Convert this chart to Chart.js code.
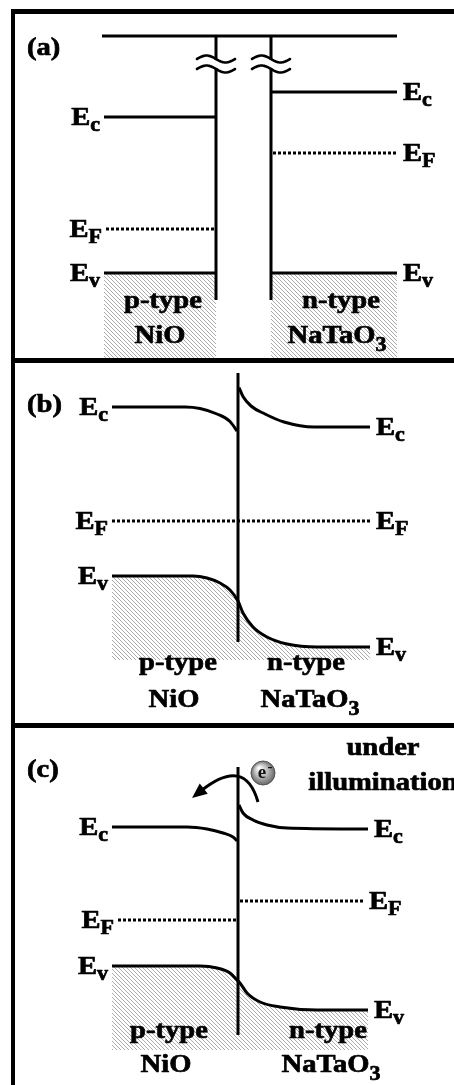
<!DOCTYPE html>
<html><head><meta charset="utf-8">
<script src="https://cdn.jsdelivr.net/npm/chart.js@4.4.1/dist/chart.umd.min.js"></script>
<style>
html,body{margin:0;padding:0;background:#fff;}
#wrap{position:relative;width:454px;height:1085px;overflow:hidden;background:#fff;}
canvas{position:absolute;left:0;}
.bar{position:absolute;background:#000;z-index:5;}
</style></head><body>
<div id="wrap">
<canvas id="ca" width="454" height="360" style="top:0px"></canvas>
<canvas id="cb" width="454" height="365" style="top:360px"></canvas>
<canvas id="cc" width="454" height="360" style="top:725px"></canvas>
<div class="bar" style="left:11px;top:9px;width:4px;height:1076px"></div>
<div class="bar" style="left:11px;top:9px;width:443px;height:5px"></div>
<div class="bar" style="left:11px;top:358px;width:443px;height:5px"></div>
<div class="bar" style="left:11px;top:723px;width:443px;height:5px"></div>
</div>
<script>
// ===== DATA (x = position across junction, a.u.; E = energy, eV relative) =====
// Panel (a): separate semiconductors before contact
const A_VAC_X      = [-13.6, 15.9];
const A_VAC_E      = [4.74, 4.74];
const A_NIO_X      = [-13.4, -2.2];
const A_NIO_EC     = [3.12, 3.12];
const A_NIO_EF_X   = [-13.2, -2.4];
const A_NIO_EF     = [0.88, 0.88];
const A_NIO_EV     = [0, 0];
const A_NTO_X      = [3.3, 15.9];
const A_NTO_EC     = [3.62, 3.62];
const A_NTO_EF_X   = [3.5, 15.9];
const A_NTO_EF     = [2.40, 2.40];
const A_NTO_EV     = [0, 0];
const A_WALL_NIO_X = [-2.2, -2.2];
const A_WALL_NTO_X = [3.3, 3.3];
const A_WALL_E     = [4.74, -0.54];
const A_BREAK_E    = 4.18;

// Panel (b): p-n junction in equilibrium
const B_NIO_EC_X = [-12.6, -5.3, -3.8, -2.1, -0.8, -0.1];
const B_NIO_EC   = [2.28, 2.28, 2.25, 2.14, 1.99, 1.80];
const B_NTO_EC_X = [0.1, 0.5, 1.3, 2.7, 4.6, 7.6, 13.2];
const B_NTO_EC   = [2.67, 2.49, 2.30, 2.14, 1.98, 1.88, 1.88];
const B_EF_X     = [-12.6, 13.2];
const B_EF       = [0, 0];
const B_EV_X     = [-12.6, -4.5, -3.1, -1.8, -0.8, 0, 0.5, 1.5, 2.9, 4.9, 7.9, 13.2];
const B_EV       = [-1.10, -1.10, -1.14, -1.24, -1.38, -1.60, -1.84, -2.12, -2.32, -2.46, -2.52, -2.52];
const B_WALL_X   = [0, 0];
const B_WALL_E   = [2.96, -2.42];
const B_FILL_BOTTOM = -2.78;

// Panel (c): junction under illumination
const C_NIO_EC_X = [-12.6, -5.1, -3.1, -1.5, -0.5, -0.1];
const C_NIO_EC   = [1.86, 1.86, 1.82, 1.74, 1.66, 1.58];
const C_NTO_EC_X = [0.1, 0.5, 1.5, 2.9, 4.9, 13.0];
const C_NTO_EC   = [2.30, 2.14, 2.00, 1.90, 1.84, 1.82];
const C_NIO_EF_X = [-12.0, -0.1];
const C_NIO_EF   = [0, 0];
const C_NTO_EF_X = [0.2, 12.5];
const C_NTO_EF   = [0.38, 0.38];
const C_EV_X     = [-12.6, -3.8, -2.1, -0.8, -0.1, 0.2, 0.9, 2.2, 4.2, 7.9, 13.0];
const C_EV       = [-0.92, -0.92, -0.96, -1.06, -1.20, -1.26, -1.46, -1.64, -1.74, -1.80, -1.80];
const C_WALL_X   = [0, 0];
const C_WALL_E   = [3.06, -2.30];
const C_FILL_BOTTOM = -2.60;
const C_ELECTRON = {x: 2.5, E: 2.94};
const C_ARROW_X  = [2.0, 0.7, -4.6];   // start, control, tip
const C_ARROW_E  = [2.36, 3.28, 2.44];

// ===== layout / style =====
const X_MIN = -23.8, X_MAX = 21.6;
const FONT = '"Liberation Serif","Times New Roman",serif';
const SX = 1.1, MAIN = 26, SUB = 20;

function makeHatch(){
  const c = document.createElement('canvas'); c.width = 4; c.height = 4;
  const g = c.getContext('2d');
  g.strokeStyle = '#ababab'; g.lineWidth = 1;
  g.beginPath(); g.moveTo(-1,-1); g.lineTo(5,5); g.stroke();
  g.beginPath(); g.moveTo(-1,3); g.lineTo(1,5); g.stroke();
  g.beginPath(); g.moveTo(3,-1); g.lineTo(5,1); g.stroke();
  return g.createPattern(c, 'repeat');
}
const HATCH = makeHatch();

function line(xs, ys, extra){
  return Object.assign({
    data: xs.map((x,i)=>({x:x, y:ys[i]})),
    showLine:true, borderColor:'#000', borderWidth:3, pointRadius:0, pointHoverRadius:0,
    fill:false, cubicInterpolationMode:'monotone', borderCapStyle:'butt', borderJoinStyle:'round', clip:false
  }, extra || {});
}
const DOT = {borderDash:[3,2]};

function put(ctx, s, x, y, size){
  ctx.save(); ctx.font = 'bold '+size+'px '+FONT; ctx.textAlign='left'; ctx.textBaseline='alphabetic';
  ctx.translate(x,y); ctx.scale(SX,1);
  ctx.fillStyle='#000'; ctx.fillText(s,0,0);
  ctx.strokeStyle='#000'; ctx.lineWidth=0.7; ctx.lineJoin='round'; ctx.strokeText(s,0,0);
  ctx.restore();
}
function tw(ctx, s, size){ ctx.save(); ctx.font = 'bold '+size+'px '+FONT; const w = ctx.measureText(s).width*SX; ctx.restore(); return w; }

function annotPlugin(cfg){
  return {
    id:'annot',
    afterDatasetsDraw(chart){
      const ctx = chart.ctx, xs = chart.scales.x, ys = chart.scales.y;
      (cfg.breaks||[]).forEach(b=>{
        const cx = xs.getPixelForValue(b.x), cy = ys.getPixelForValue(b.E);
        ctx.save();
        ctx.fillStyle='#fff'; ctx.fillRect(cx-3, cy-4, 6, 8);
        ctx.strokeStyle='#000'; ctx.lineWidth=2.6; ctx.lineCap='round';
        [-5,5].forEach(off=>{
          ctx.beginPath();
          for(let i=0;i<=40;i++){
            const t=i/40; const px = cx-19+38*t; const py = cy+off-3.5*Math.sin(2*Math.PI*t);
            if(i===0) ctx.moveTo(px,py); else ctx.lineTo(px,py);
          }
          ctx.stroke();
        });
        ctx.restore();
      });
      (cfg.levels||[]).forEach(l=>{
        const px = xs.getPixelForValue(l.x), py = ys.getPixelForValue(l.E);
        const w1 = tw(ctx,'E',MAIN), w2 = tw(ctx,l.sub,SUB);
        const x0 = l.side==='left' ? px-4-(w1+w2) : px+6;
        put(ctx,'E',x0,py+8,MAIN); put(ctx,l.sub,x0+w1,py+14,SUB);
      });
      (cfg.texts||[]).forEach(t=>{
        const px = xs.getPixelForValue(t.x), py = ys.getPixelForValue(t.E);
        const w1 = tw(ctx,t.t,MAIN), w2 = t.sub ? tw(ctx,t.sub,SUB) : 0;
        const x0 = t.align==='center' ? px-(w1+w2)/2 : px;
        put(ctx,t.t,x0,py,MAIN);
        if(t.sub) put(ctx,t.sub,x0+w1,py+8,SUB);
      });
      if(cfg.arrow){
        const p = cfg.arrow.x.map((x,i)=>[xs.getPixelForValue(x), ys.getPixelForValue(cfg.arrow.E[i])]);
        const s = p[0], c = p[1], e = p[2];
        const ang = Math.atan2(e[1]-c[1], e[0]-c[0]);
        const L = 15, W = 6.5;
        const bx = e[0]-L*Math.cos(ang), by = e[1]-L*Math.sin(ang);
        ctx.save(); ctx.strokeStyle='#000'; ctx.lineWidth=3;
        ctx.beginPath(); ctx.moveTo(s[0],s[1]); ctx.quadraticCurveTo(c[0],c[1],bx+3*Math.cos(ang),by+3*Math.sin(ang)); ctx.stroke();
        ctx.fillStyle='#000'; ctx.beginPath();
        ctx.moveTo(e[0],e[1]);
        ctx.lineTo(bx+W*Math.sin(ang), by-W*Math.cos(ang));
        ctx.lineTo(bx-W*Math.sin(ang), by+W*Math.cos(ang));
        ctx.closePath(); ctx.fill(); ctx.restore();
      }
      if(cfg.electron){
        const ex = xs.getPixelForValue(cfg.electron.x), ey = ys.getPixelForValue(cfg.electron.E), r = 12;
        ctx.save();
        const g = ctx.createRadialGradient(ex-4,ey-5,1,ex,ey,r);
        g.addColorStop(0,'#fafafa'); g.addColorStop(0.55,'#b4b4b4'); g.addColorStop(1,'#666');
        ctx.fillStyle=g; ctx.beginPath(); ctx.arc(ex,ey,r,0,2*Math.PI); ctx.fill();
        ctx.strokeStyle='#555'; ctx.lineWidth=1; ctx.stroke();
        ctx.fillStyle='#111'; ctx.font='bold 19px '+FONT; ctx.textAlign='center'; ctx.textBaseline='alphabetic';
        ctx.fillText('e',ex-1,ey+5);
        ctx.font='bold 15px '+FONT; ctx.fillText('-',ex+7,ey-2);
        ctx.restore();
      }
    }
  };
}

function makeChart(id, datasets, yMin, yMax, cfg){
  return new Chart(document.getElementById(id), {
    type:'scatter',
    data:{datasets:datasets},
    options:{
      responsive:false, animation:false, devicePixelRatio:1, events:[],
      layout:{padding:0},
      scales:{
        x:{type:'linear', min:X_MIN, max:X_MAX, display:false},
        y:{type:'linear', min:yMin, max:yMax, display:false}
      },
      plugins:{legend:{display:false}, tooltip:{enabled:false}, filler:{drawTime:'beforeDatasetsDraw'}}
    },
    plugins:[annotPlugin(cfg)]
  });
}

// ---------- panel (a) ----------
makeChart('ca', [
  line(A_VAC_X, A_VAC_E),
  line(A_WALL_NIO_X, A_WALL_E),
  line(A_WALL_NTO_X, A_WALL_E),
  line(A_NIO_X, A_NIO_EC),
  line(A_NIO_EF_X, A_NIO_EF, DOT),
  line(A_NTO_X, A_NTO_EC),
  line(A_NTO_EF_X, A_NTO_EF, DOT),
  line(A_NIO_X, A_NIO_EV, {fill:'start', backgroundColor:HATCH}),
  line(A_NTO_X, A_NTO_EV, {fill:'start', backgroundColor:HATCH})
], -1.74, 5.46, {
  breaks:[{x:A_WALL_NIO_X[0], E:A_BREAK_E},{x:A_WALL_NTO_X[0], E:A_BREAK_E}],
  levels:[
    {x:A_NIO_X[0], E:A_NIO_EC[0], sub:'c', side:'left'},
    {x:A_NIO_EF_X[0], E:A_NIO_EF[0], sub:'F', side:'left'},
    {x:A_NIO_X[0], E:A_NIO_EV[0], sub:'v', side:'left'},
    {x:A_NTO_X[1], E:A_NTO_EC[1], sub:'c', side:'right'},
    {x:A_NTO_EF_X[1], E:A_NTO_EF[1], sub:'F', side:'right'},
    {x:A_NTO_X[1], E:A_NTO_EV[1], sub:'v', side:'right'}
  ],
  texts:[
    {t:'(a)', x:-21.1, E:4.36, align:'left'},
    {t:'p-type', x:-7.5, E:-0.70, align:'center'},
    {t:'NiO', x:-7.8, E:-1.40, align:'center'},
    {t:'n-type', x:10.3, E:-0.70, align:'center'},
    {t:'NaTaO', sub:'3', x:9.9, E:-1.40, align:'center'}
  ]
});

// ---------- panel (b) ----------
makeChart('cb', [
  line(B_WALL_X, B_WALL_E),
  line(B_NIO_EC_X, B_NIO_EC),
  line(B_NTO_EC_X, B_NTO_EC),
  line(B_EF_X, B_EF, DOT),
  line(B_EV_X, B_EV, {fill:{value:B_FILL_BOTTOM}, backgroundColor:HATCH})
], -4.08, 3.22, {
  levels:[
    {x:B_NIO_EC_X[0], E:B_NIO_EC[0], sub:'c', side:'left'},
    {x:B_EF_X[0], E:B_EF[0], sub:'F', side:'left'},
    {x:B_EV_X[0], E:B_EV[0], sub:'v', side:'left'},
    {x:B_NTO_EC_X[B_NTO_EC_X.length-1], E:B_NTO_EC[B_NTO_EC.length-1], sub:'c', side:'right'},
    {x:B_EF_X[1], E:B_EF[1], sub:'F', side:'right'},
    {x:B_EV_X[B_EV_X.length-1], E:B_EV[B_EV.length-1], sub:'v', side:'right'}
  ],
  texts:[
    {t:'(b)', x:-21.1, E:2.18, align:'left'},
    {t:'p-type', x:-6.0, E:-2.98, align:'center'},
    {t:'NiO', x:-6.4, E:-3.72, align:'center'},
    {t:'n-type', x:6.8, E:-2.98, align:'center'},
    {t:'NaTaO', sub:'3', x:7.2, E:-3.72, align:'center'}
  ]
});

// ---------- panel (c) ----------
makeChart('cc', [
  line(C_WALL_X, C_WALL_E),
  line(C_NIO_EC_X, C_NIO_EC),
  line(C_NTO_EC_X, C_NTO_EC),
  line(C_NIO_EF_X, C_NIO_EF, DOT),
  line(C_NTO_EF_X, C_NTO_EF, DOT),
  line(C_EV_X, C_EV, {fill:{value:C_FILL_BOTTOM}, backgroundColor:HATCH})
], -3.30, 3.90, {
  levels:[
    {x:C_NIO_EC_X[0], E:C_NIO_EC[0], sub:'c', side:'left'},
    {x:C_NIO_EF_X[0], E:C_NIO_EF[0], sub:'F', side:'left'},
    {x:C_EV_X[0], E:C_EV[0], sub:'v', side:'left'},
    {x:C_NTO_EC_X[C_NTO_EC_X.length-1], E:C_NTO_EC[C_NTO_EC.length-1], sub:'c', side:'right'},
    {x:C_NTO_EF_X[1], E:C_NTO_EF[1], sub:'F', side:'right'},
    {x:C_EV_X[C_EV_X.length-1], E:C_EV[C_EV.length-1], sub:'v', side:'right'}
  ],
  texts:[
    {t:'(c)', x:-21.1, E:2.86, align:'left'},
    {t:'under', x:14.5, E:3.30, align:'center'},
    {t:'illumination', x:14.5, E:2.60, align:'center'},
    {t:'p-type', x:-6.9, E:-2.36, align:'center'},
    {t:'NiO', x:-7.2, E:-3.04, align:'center'},
    {t:'n-type', x:9.0, E:-2.36, align:'center'},
    {t:'NaTaO', sub:'3', x:9.3, E:-3.04, align:'center'}
  ],
  arrow:{x:C_ARROW_X, E:C_ARROW_E},
  electron:C_ELECTRON
});
</script>
</body></html>
